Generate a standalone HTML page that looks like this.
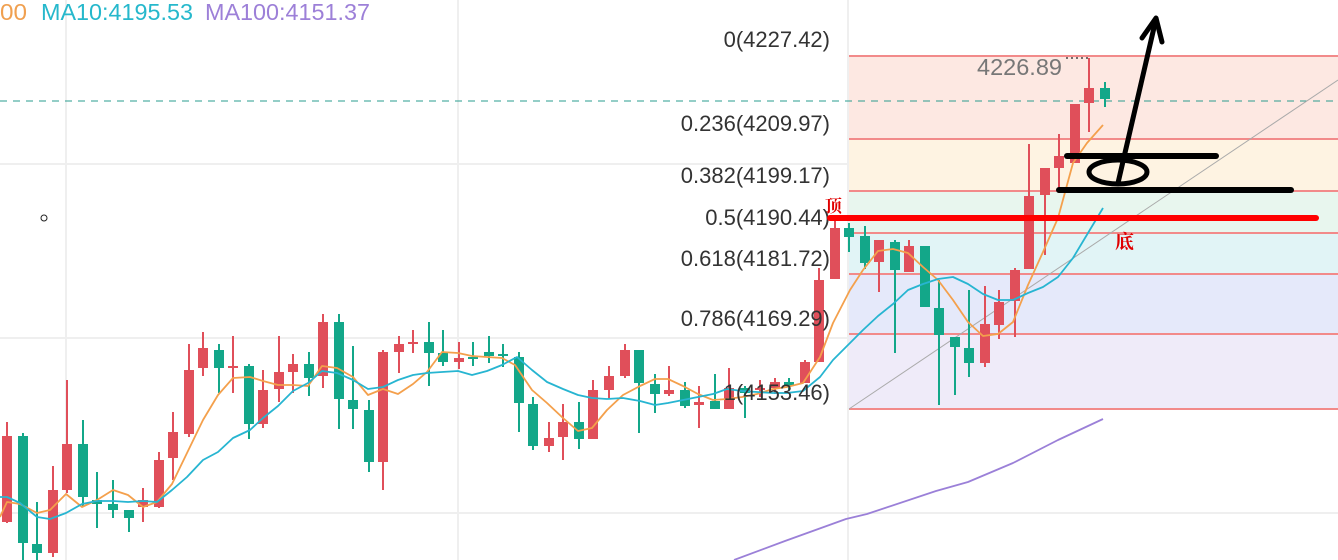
<!DOCTYPE html>
<html>
<head>
<meta charset="utf-8">
<style>
html,body{margin:0;padding:0;background:#fff;}
svg{display:block;}
</style>
</head>
<body>
<svg width="1338" height="560" viewBox="0 0 1338 560" xmlns="http://www.w3.org/2000/svg">
<rect x="0" y="0" width="1338" height="560" fill="#ffffff"/>
<g stroke="#efefef" stroke-width="2">
<line x1="0" y1="164" x2="1338" y2="164"/>
<line x1="0" y1="338" x2="1338" y2="338"/>
<line x1="0" y1="513" x2="1338" y2="513"/>
<line x1="66" y1="0" x2="66" y2="560"/>
<line x1="458" y1="0" x2="458" y2="560"/>
<line x1="848" y1="0" x2="848" y2="560"/>
</g>
<rect x="849" y="56" width="489" height="83" fill="#fde8e2"/>
<rect x="849" y="139" width="489" height="52" fill="#fef3e2"/>
<rect x="849" y="191" width="489" height="42" fill="#e8f6ee"/>
<rect x="849" y="233" width="489" height="41" fill="#e1f4f6"/>
<rect x="849" y="274" width="489" height="60" fill="#e5e9fa"/>
<rect x="849" y="334" width="489" height="75" fill="#efebf9"/>
<g stroke="#f28a8a" stroke-width="2">
<line x1="849" y1="56" x2="1338" y2="56"/>
<line x1="849" y1="139" x2="1338" y2="139"/>
<line x1="849" y1="191" x2="1338" y2="191"/>
<line x1="849" y1="233" x2="1338" y2="233"/>
<line x1="849" y1="274" x2="1338" y2="274"/>
<line x1="849" y1="334" x2="1338" y2="334"/>
<line x1="849" y1="409" x2="1338" y2="409"/>
</g>
<line x1="0" y1="101" x2="1338" y2="101" stroke="#2a9d8f" stroke-width="1" stroke-dasharray="7 6"/>
<line x1="849" y1="409" x2="1338" y2="80" stroke="#aaaaaa" stroke-width="1"/>
<g fill="#e04f5a">
<rect x="6" y="422" width="2" height="101"/><rect x="2" y="436" width="10" height="86"/>
<rect x="52" y="466" width="2" height="91"/><rect x="48" y="490" width="10" height="63"/>
<rect x="66" y="380" width="2" height="113"/><rect x="62" y="444" width="10" height="46"/>
<rect x="142" y="488" width="2" height="34"/><rect x="138" y="500" width="10" height="7"/>
<rect x="158" y="452" width="2" height="56"/><rect x="154" y="460" width="10" height="47"/>
<rect x="172" y="412" width="2" height="68"/><rect x="168" y="432" width="10" height="26"/>
<rect x="188" y="344" width="2" height="93"/><rect x="184" y="370" width="10" height="64"/>
<rect x="202" y="332" width="2" height="44"/><rect x="198" y="348" width="10" height="20"/>
<rect x="232" y="336" width="2" height="57"/><rect x="228" y="366" width="10" height="2"/>
<rect x="262" y="370" width="2" height="58"/><rect x="258" y="390" width="10" height="34"/>
<rect x="278" y="336" width="2" height="66"/><rect x="274" y="372" width="10" height="17"/>
<rect x="292" y="354" width="2" height="39"/><rect x="288" y="364" width="10" height="8"/>
<rect x="322" y="314" width="2" height="74"/><rect x="318" y="322" width="10" height="54"/>
<rect x="382" y="350" width="2" height="140"/><rect x="378" y="352" width="10" height="110"/>
<rect x="398" y="336" width="2" height="37"/><rect x="394" y="344" width="10" height="8"/>
<rect x="412" y="330" width="2" height="23"/><rect x="408" y="342" width="10" height="2"/>
<rect x="458" y="342" width="2" height="27"/><rect x="454" y="358" width="10" height="4"/>
<rect x="548" y="422" width="2" height="30"/><rect x="544" y="438" width="10" height="8"/>
<rect x="562" y="404" width="2" height="56"/><rect x="558" y="422" width="10" height="15"/>
<rect x="592" y="380" width="2" height="59"/><rect x="588" y="390" width="10" height="49"/>
<rect x="608" y="366" width="2" height="32"/><rect x="604" y="376" width="10" height="14"/>
<rect x="624" y="344" width="2" height="34"/><rect x="620" y="350" width="10" height="26"/>
<rect x="668" y="366" width="2" height="30"/><rect x="664" y="390" width="10" height="4"/>
<rect x="698" y="386" width="2" height="42"/><rect x="694" y="402" width="10" height="3"/>
<rect x="728" y="368" width="2" height="41"/><rect x="724" y="388" width="10" height="21"/>
<rect x="759" y="380" width="2" height="17"/><rect x="755" y="388" width="10" height="2"/>
<rect x="774" y="378" width="2" height="16"/><rect x="770" y="382" width="10" height="6"/>
<rect x="804" y="360" width="2" height="23"/><rect x="800" y="362" width="10" height="21"/>
<rect x="818" y="268" width="2" height="94"/><rect x="814" y="280" width="10" height="82"/>
<rect x="834" y="220" width="2" height="59"/><rect x="830" y="228" width="10" height="51"/>
<rect x="878" y="240" width="2" height="52"/><rect x="874" y="240" width="10" height="22"/>
<rect x="908" y="240" width="2" height="32"/><rect x="904" y="246" width="10" height="26"/>
<rect x="984" y="286" width="2" height="81"/><rect x="980" y="324" width="10" height="39"/>
<rect x="998" y="290" width="2" height="49"/><rect x="994" y="302" width="10" height="23"/>
<rect x="1014" y="268" width="2" height="69"/><rect x="1010" y="270" width="10" height="31"/>
<rect x="1028" y="144" width="2" height="125"/><rect x="1024" y="196" width="10" height="73"/>
<rect x="1044" y="168" width="2" height="87"/><rect x="1040" y="168" width="10" height="27"/>
<rect x="1058" y="134" width="2" height="59"/><rect x="1054" y="156" width="10" height="12"/>
<rect x="1074" y="104" width="2" height="59"/><rect x="1070" y="104" width="10" height="59"/>
<rect x="1088" y="58" width="2" height="74"/><rect x="1084" y="88" width="10" height="15"/>
</g>
<g fill="#13a789">
<rect x="22" y="433" width="2" height="127"/><rect x="18" y="436" width="10" height="107"/>
<rect x="36" y="502" width="2" height="58"/><rect x="32" y="544" width="10" height="9"/>
<rect x="82" y="420" width="2" height="87"/><rect x="78" y="444" width="10" height="53"/>
<rect x="96" y="472" width="2" height="56"/><rect x="92" y="500" width="10" height="4"/>
<rect x="112" y="480" width="2" height="38"/><rect x="108" y="504" width="10" height="6"/>
<rect x="128" y="510" width="2" height="22"/><rect x="124" y="510" width="10" height="8"/>
<rect x="218" y="344" width="2" height="49"/><rect x="214" y="350" width="10" height="18"/>
<rect x="248" y="364" width="2" height="75"/><rect x="244" y="366" width="10" height="58"/>
<rect x="308" y="352" width="2" height="44"/><rect x="304" y="364" width="10" height="14"/>
<rect x="338" y="314" width="2" height="115"/><rect x="334" y="322" width="10" height="77"/>
<rect x="352" y="346" width="2" height="83"/><rect x="348" y="400" width="10" height="9"/>
<rect x="368" y="400" width="2" height="72"/><rect x="364" y="410" width="10" height="52"/>
<rect x="428" y="322" width="2" height="64"/><rect x="424" y="342" width="10" height="11"/>
<rect x="442" y="330" width="2" height="36"/><rect x="438" y="353" width="10" height="9"/>
<rect x="472" y="342" width="2" height="24"/><rect x="468" y="357" width="10" height="2"/>
<rect x="488" y="336" width="2" height="27"/><rect x="484" y="352" width="10" height="4"/>
<rect x="502" y="344" width="2" height="23"/><rect x="498" y="354" width="10" height="2"/>
<rect x="518" y="352" width="2" height="80"/><rect x="514" y="357" width="10" height="46"/>
<rect x="532" y="397" width="2" height="53"/><rect x="528" y="404" width="10" height="42"/>
<rect x="578" y="402" width="2" height="47"/><rect x="574" y="422" width="10" height="17"/>
<rect x="638" y="350" width="2" height="83"/><rect x="634" y="350" width="10" height="33"/>
<rect x="654" y="374" width="2" height="39"/><rect x="650" y="384" width="10" height="10"/>
<rect x="684" y="382" width="2" height="26"/><rect x="680" y="390" width="10" height="16"/>
<rect x="714" y="374" width="2" height="35"/><rect x="710" y="401" width="10" height="8"/>
<rect x="744" y="386" width="2" height="32"/><rect x="740" y="388" width="10" height="5"/>
<rect x="788" y="378" width="2" height="12"/><rect x="784" y="382" width="10" height="4"/>
<rect x="848" y="223" width="2" height="29"/><rect x="844" y="228" width="10" height="9"/>
<rect x="864" y="226" width="2" height="43"/><rect x="860" y="236" width="10" height="27"/>
<rect x="894" y="240" width="2" height="113"/><rect x="890" y="242" width="10" height="28"/>
<rect x="924" y="246" width="2" height="61"/><rect x="920" y="246" width="10" height="61"/>
<rect x="938" y="280" width="2" height="125"/><rect x="934" y="308" width="10" height="27"/>
<rect x="954" y="337" width="2" height="58"/><rect x="950" y="337" width="10" height="10"/>
<rect x="968" y="290" width="2" height="87"/><rect x="964" y="348" width="10" height="15"/>
<rect x="1104" y="82" width="2" height="25"/><rect x="1100" y="88" width="10" height="11"/>
</g>
<polyline fill="none" stroke="#f4a04c" stroke-width="1.8" stroke-linejoin="round" points="0,517 7,502 20,504 37,513 50,510 66,494 82,507 97,500 113,490 128,495 143,507 157,502 172,484 187,453 203,420 218,395 233,378 250,377 263,381 278,385 293,385 308,386 322,366 337,368 353,377 368,395 383,389 398,394 413,384 427,372 442,352 458,353 472,356 487,357 502,358 515,365 532,390 547,403 563,418 578,431 592,428 607,410 623,395 640,386 655,379 668,379 683,386 698,394 713,400 727,399 742,397 757,394 773,389 787,387 803,383 820,357 833,323 850,290 863,270 878,251 893,249 908,253 923,267 938,280 953,300 968,322 983,336 998,334 1013,322 1028,285 1043,252 1058,218 1073,163 1087,143 1103,125"/>
<polyline fill="none" stroke="#27b5d1" stroke-width="1.8" stroke-linejoin="round" points="0,497 7,497 20,503 37,517 50,519 66,513 82,504 97,501 113,501 128,502 143,501 157,502 172,490 187,477 203,460 218,452 233,438 250,430 263,418 278,406 293,391 308,383 322,371 337,373 353,380 368,389 383,387 398,380 413,375 427,373 442,372 458,371 472,375 487,371 502,365 517,357 532,370 547,382 563,389 578,395 592,398 607,399 623,398 640,401 655,405 668,403 683,400 698,397 713,394 727,389 742,391 757,392 773,393 787,393 803,391 820,377 833,360 850,343 863,330 878,316 893,304 908,290 923,284 938,279 953,277 968,284 983,294 998,300 1013,300 1028,293 1043,287 1058,277 1073,258 1088,233 1103,208"/>
<polyline fill="none" stroke="#9b80d8" stroke-width="1.8" stroke-linejoin="round" points="734,560 785,541 846,519 867,514 936,491 968,482 1013,463 1058,440 1103,419"/>
<g font-family="'Liberation Sans', 'Noto Sans CJK SC', sans-serif" font-size="23">
<text x="0" y="20" fill="#f0a050" textLength="27" lengthAdjust="spacingAndGlyphs">00</text>
<text x="41" y="20" fill="#26b8cc" textLength="152" lengthAdjust="spacingAndGlyphs">MA10:4195.53</text>
<text x="205" y="20" fill="#9d80d8" textLength="165" lengthAdjust="spacingAndGlyphs">MA100:4151.37</text>
</g>
<g font-family="'Liberation Sans', 'Noto Sans CJK SC', sans-serif" font-size="22" fill="#333333" text-anchor="end">
<text x="830" y="47">0(4227.42)</text>
<text x="830" y="131">0.236(4209.97)</text>
<text x="830" y="183">0.382(4199.17)</text>
<text x="830" y="225">0.5(4190.44)</text>
<text x="830" y="266">0.618(4181.72)</text>
<text x="830" y="326">0.786(4169.29)</text>
<text x="830" y="400">1(4153.46)</text>
</g>
<text x="977" y="75" font-family="'Liberation Sans', 'Noto Sans CJK SC', sans-serif" font-size="23" fill="#777777" textLength="85" lengthAdjust="spacingAndGlyphs">4226.89</text>
<line x1="1066" y1="58" x2="1089" y2="58" stroke="#444" stroke-width="1.5" stroke-dasharray="2 3"/>
<circle cx="44" cy="218" r="3" fill="none" stroke="#222" stroke-width="1"/>
<line x1="830" y1="218" x2="1316" y2="218" stroke="#ff0000" stroke-width="6" stroke-linecap="round"/>
<g font-family="'Liberation Serif', 'Noto Serif CJK SC', serif" fill="#e00000" font-weight="bold">
<text x="825" y="212" font-size="17">顶</text>
<text x="1115" y="248" font-size="19">底</text>
</g>
<g stroke="#000" stroke-width="6" stroke-linecap="round" stroke-linejoin="round" fill="none">
<line x1="1067" y1="156" x2="1216" y2="156"/>
<line x1="1059" y1="190" x2="1291" y2="190"/>
<ellipse cx="1118" cy="172" rx="29" ry="12" stroke-width="5"/>
<line x1="1118" y1="183" x2="1156" y2="19" stroke-width="5"/>
<polyline points="1142,38 1156,18 1162,42" stroke-width="5"/>
</g>
</svg>
</body>
</html>
